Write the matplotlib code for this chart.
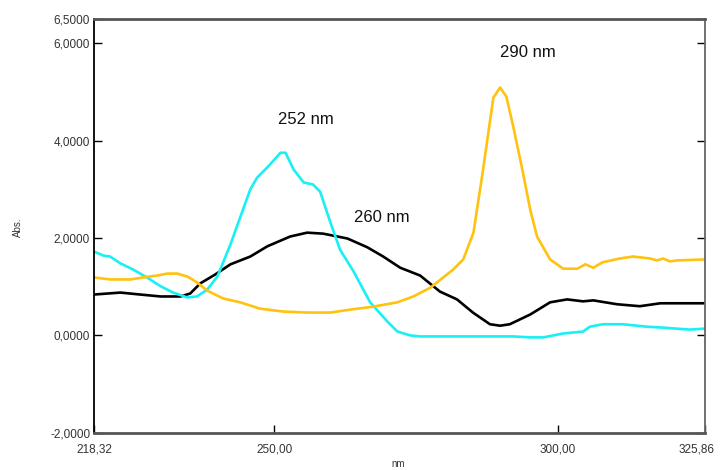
import matplotlib.pyplot as plt
import matplotlib.transforms as mtransforms
from matplotlib.ticker import FixedLocator, FuncFormatter

plt.rcParams['font.family'] = ['Liberation Sans', 'DejaVu Sans']

# spectra (nm, Abs.)
black_nm = [218.3, 222.9, 226.4, 230.0, 233.5, 235.2, 237.0, 239.6, 242.3, 245.8,
            248.8, 252.8, 255.8, 258.6, 262.9, 266.4, 269.2, 272.2, 275.7, 279.2,
            282.2, 285.0, 288.0, 289.8, 291.5, 295.1, 298.6, 301.6, 304.4, 306.2,
            310.4, 314.4, 318.0, 325.8]
black_abs = [0.84, 0.88, 0.84, 0.80, 0.80, 0.86, 1.07, 1.25, 1.46, 1.62,
             1.83, 2.03, 2.11, 2.09, 1.99, 1.81, 1.62, 1.39, 1.23, 0.90,
             0.74, 0.47, 0.23, 0.20, 0.23, 0.43, 0.68, 0.74, 0.70, 0.72,
             0.64, 0.60, 0.66, 0.66]

cyan_nm = [218.3, 219.9, 221.1, 222.9, 225.2, 227.6, 230.0, 232.2, 234.7, 236.4,
           238.2, 240.0, 242.3, 244.0, 245.8, 247.0, 248.8, 250.5, 251.1, 252.0,
           253.4, 255.2, 256.8, 258.1, 259.9, 261.6, 263.9, 266.9, 269.9, 271.7,
           274.0, 275.7, 292.1, 295.1, 297.4, 300.9, 304.4, 305.6, 307.9, 311.4,
           315.6, 318.5, 323.2, 325.8]
cyan_abs = [1.72, 1.64, 1.62, 1.48, 1.35, 1.19, 1.01, 0.88, 0.78, 0.80,
            0.94, 1.21, 1.87, 2.42, 3.00, 3.24, 3.45, 3.67, 3.75, 3.75,
            3.41, 3.14, 3.10, 2.95, 2.32, 1.76, 1.33, 0.68, 0.29, 0.08,
            0.00, -0.02, -0.02, -0.04, -0.04, 0.04, 0.08, 0.18, 0.23, 0.23,
            0.18, 0.16, 0.12, 0.14]

yellow_nm = [218.3, 221.1, 224.7, 226.9, 229.4, 231.2, 232.9, 234.7, 236.4, 238.2,
             241.0, 244.0, 247.5, 251.6, 255.8, 259.9, 263.4, 267.4, 271.7, 274.5,
             277.5, 281.5, 283.3, 285.1, 286.8, 288.6, 289.8, 290.9, 292.1, 293.7,
             295.1, 296.3, 298.6, 300.9, 303.4, 304.8, 306.2, 307.8, 310.9, 313.2,
             316.2, 317.4, 318.5, 319.7, 321.0, 325.8]
yellow_abs = [1.19, 1.15, 1.15, 1.19, 1.23, 1.27, 1.27, 1.21, 1.09, 0.92,
              0.76, 0.68, 0.55, 0.49, 0.47, 0.47, 0.53, 0.59, 0.68, 0.80,
              0.98, 1.35, 1.56, 2.11, 3.41, 4.88, 5.09, 4.90, 4.29, 3.41,
              2.58, 2.03, 1.56, 1.37, 1.37, 1.46, 1.39, 1.50, 1.58, 1.62,
              1.58, 1.54, 1.58, 1.52, 1.54, 1.56]

x_ticks = [218.32, 250.0, 300.0, 325.86]
y_ticks = [-2.0, 0.0, 2.0, 4.0, 6.0, 6.5]

peak_labels = ['252 nm', '260 nm', '290 nm']
peak_pos = [(255.5, 4.43), (268.9, 2.42), (294.7, 5.8)]

fig = plt.figure(figsize=(7.2, 4.7), dpi=100)
ax = fig.add_axes([0.131, 0.079, 0.848, 0.881])

ax.plot(black_nm, black_abs, color='black', lw=1.9)
ax.plot(cyan_nm, cyan_abs, color='#19F0F5', lw=1.9)
ax.plot(yellow_nm, yellow_abs, color='#FFC20E', lw=1.9)

for txt, (x, y) in zip(peak_labels, peak_pos):
    ax.text(x, y, txt, fontsize=12, ha='center', va='center', color='#111111')

ax.set_xlim(x_ticks[0], x_ticks[-1])
ax.set_ylim(y_ticks[0], y_ticks[-1])

ax.xaxis.set_major_locator(FixedLocator(x_ticks))
ax.yaxis.set_major_locator(FixedLocator(y_ticks))
ax.xaxis.set_major_formatter(FuncFormatter(lambda v, p: f'{v:.2f}'.replace('.', ',')))
ax.yaxis.set_major_formatter(FuncFormatter(lambda v, p: f'{v:.4f}'.replace('.', ',')))

ax.tick_params(axis='both', direction='in', labelsize=8.5, labelcolor='#333333',
               length=6, width=1.0, color='black')
ax.tick_params(axis='x', pad=8)
ax.tick_params(axis='y', right=True, pad=3)

# last x label sits a little left of its tick, like the original
fig.canvas.draw()
last = ax.get_xticklabels()[-1]
last.set_transform(last.get_transform() + mtransforms.ScaledTranslation(-8 / 100, 0, fig.dpi_scale_trans))

for side in ['top', 'bottom']:
    ax.spines[side].set_color('#555555')
    ax.spines[side].set_linewidth(2.0)
ax.spines['left'].set_color('black')
ax.spines['left'].set_linewidth(1.3)
ax.spines['right'].set_color('#666666')
ax.spines['right'].set_linewidth(1.3)

fig.text(0.025, 0.517, 'Abs.', rotation=90, fontsize=7, ha='center', va='center', color='#333333')
fig.text(0.553, 0.012, 'nm', fontsize=7, ha='center', va='center', color='#333333')

fig.savefig('out.png', dpi=100)
